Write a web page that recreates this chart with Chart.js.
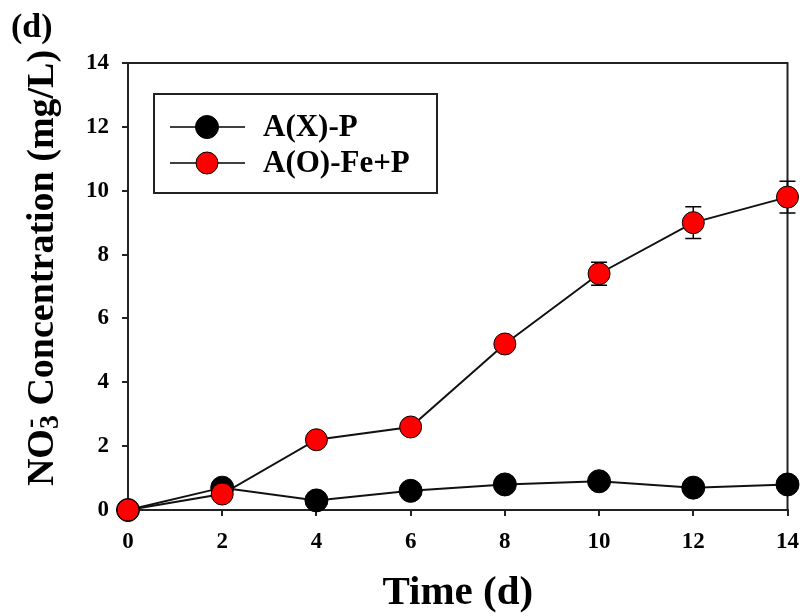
<!DOCTYPE html>
<html>
<head>
<meta charset="utf-8">
<script src="https://cdn.jsdelivr.net/npm/chart.js@4.4.0/dist/chart.umd.min.js"></script>
<style>
    html, body { margin: 0; padding: 0; background: #fff; }
    #wrap { width: 811px; height: 616px; position: relative; }
</style>
</head>
<body>
<div id="wrap"><canvas id="no3Chart" width="811" height="616"></canvas></div>
<script>
const days = [0, 2, 4, 6, 8, 10, 12, 14];
const axpValues = [0, 0.7, 0.3, 0.6, 0.8, 0.9, 0.7, 0.8];
const axpErrors = [0, 0, 0, 0, 0, 0, 0, 0];
const aofepValues = [0, 0.5, 2.2, 2.6, 5.2, 7.4, 9.0, 9.8];
const aofepErrors = [0, 0, 0, 0, 0.1, 0.36, 0.5, 0.5];
const seriesLabels = ['A(X)-P', 'A(O)-Fe+P'];
const panelLabel = '(d)';
const xTitle = 'Time (d)';

const serif = "'Liberation Serif', 'Times New Roman', serif";

function toPoints(xs, ys) {
    return xs.map((x, i) => ({ x: x, y: ys[i] }));
}

const frameAndErrors = {
    id: 'frameAndErrors',
    beforeDatasetsDraw(chart) {
        const ctx = chart.ctx;
        const area = chart.chartArea;
        const xs = chart.scales.x;
        const ys = chart.scales.y;
        ctx.save();
        ctx.strokeStyle = '#222';
        ctx.lineWidth = 2;
        ctx.strokeRect(area.left, area.top, area.right - area.left, area.bottom - area.top);

        // error bars
        ctx.strokeStyle = '#000';
        ctx.lineWidth = 1.5;
        chart.data.datasets.forEach(ds => {
            ds.errors.forEach((err, i) => {
                if (!err) return;
                const px = xs.getPixelForValue(ds.data[i].x);
                const top = ys.getPixelForValue(ds.data[i].y + err);
                const bot = ys.getPixelForValue(ds.data[i].y - err);
                ctx.beginPath();
                ctx.moveTo(px, top); ctx.lineTo(px, bot);
                ctx.moveTo(px - 8, top); ctx.lineTo(px + 8, top);
                ctx.moveTo(px - 8, bot); ctx.lineTo(px + 8, bot);
                ctx.stroke();
            });
        });
        ctx.restore();
    },
    afterDraw(chart) {
        const ctx = chart.ctx;
        const area = chart.chartArea;
        ctx.save();
        ctx.fillStyle = '#000';

        // panel label
        ctx.font = 'bold 34px ' + serif;
        ctx.textBaseline = 'middle';
        ctx.textAlign = 'left';
        ctx.fillText(panelLabel, 11, 28);

        // x title
        ctx.font = 'bold 41px ' + serif;
        ctx.textAlign = 'center';
        ctx.fillText(xTitle, (area.left + area.right) / 2, 593);

        // y title with sub/superscript
        const big = 'bold 38px ' + serif;
        const small = 'bold 28px ' + serif;
        const parts = [
            { t: 'NO', f: big, dy: 0 },
            { t: '3', f: small, dy: 5 },
            { t: '-', f: small, dy: -15 },
            { t: ' Concentration (mg/L)', f: big, dy: 0 }
        ];
        parts.forEach(p => { ctx.font = p.f; p.w = ctx.measureText(p.t).width; });
        // the sub and superscript share one slot
        const total = parts[0].w + Math.max(parts[1].w, parts[2].w) + parts[3].w;
        ctx.translate(53, 268);
        ctx.rotate(-Math.PI / 2);
        ctx.textAlign = 'left';
        ctx.textBaseline = 'alphabetic';
        let cx = -total / 2;
        ctx.font = parts[0].f; ctx.fillText(parts[0].t, cx, parts[0].dy); cx += parts[0].w;
        ctx.font = parts[1].f; ctx.fillText(parts[1].t, cx, parts[1].dy);
        ctx.font = parts[2].f; ctx.fillText(parts[2].t, cx + 1, parts[2].dy);
        cx += Math.max(parts[1].w, parts[2].w);
        ctx.font = parts[3].f; ctx.fillText(parts[3].t, cx, parts[3].dy);
        ctx.setTransform(1, 0, 0, 1, 0, 0);

        // legend box
        const lx = area.left + 26, ly = area.top + 31;
        ctx.strokeStyle = '#222';
        ctx.lineWidth = 2;
        ctx.strokeRect(lx, ly, 283, 99);
        const order = [1, 0];
        order.forEach((dsIndex, row) => {
            const ds = chart.data.datasets[dsIndex];
            const yy = ly + 33 + row * 36;
            ctx.strokeStyle = '#000';
            ctx.lineWidth = 1.5;
            ctx.beginPath();
            ctx.moveTo(lx + 16, yy); ctx.lineTo(lx + 91, yy);
            ctx.stroke();
            ctx.beginPath();
            ctx.arc(lx + 53, yy, ds.pointRadius, 0, Math.PI * 2);
            ctx.fillStyle = ds.pointBackgroundColor;
            ctx.fill();
            ctx.lineWidth = 1;
            ctx.stroke();
            ctx.fillStyle = '#000';
            ctx.font = 'bold 31px ' + serif;
            ctx.textAlign = 'left';
            ctx.textBaseline = 'middle';
            ctx.fillText(ds.label, lx + 109, yy + 1);
        });
        ctx.restore();
    }
};

const ctx = document.getElementById('no3Chart').getContext('2d');
const no3Chart = new Chart(ctx, {
    type: 'line',
    data: {
        datasets: [
            {
                label: seriesLabels[1],
                data: toPoints(days, aofepValues),
                errors: aofepErrors,
                borderColor: '#111',
                borderWidth: 2,
                pointBackgroundColor: '#ff0000',
                pointBorderColor: '#000',
                pointBorderWidth: 1,
                pointRadius: 11,
                pointHoverRadius: 11,
                tension: 0,
                clip: false,
                order: 0
            },
            {
                label: seriesLabels[0],
                data: toPoints(days, axpValues),
                errors: axpErrors,
                borderColor: '#111',
                borderWidth: 2,
                pointBackgroundColor: '#000',
                pointBorderColor: '#000',
                pointBorderWidth: 1,
                pointRadius: 11.5,
                pointHoverRadius: 11.5,
                tension: 0,
                clip: false,
                order: 1
            }
        ]
    },
    options: {
        responsive: false,
        animation: false,
        events: [],
        layout: { padding: { top: 63, right: 17, left: 0, bottom: 0 } },
        plugins: {
            legend: { display: false },
            tooltip: { enabled: false }
        },
        scales: {
            x: {
                type: 'linear',
                min: 0,
                max: 14,
                afterFit: scale => { scale.height = 106; },
                ticks: {
                    stepSize: 2,
                    color: '#000',
                    padding: 12,
                    font: { family: serif, size: 23, weight: 'bold' }
                },
                grid: { display: true, drawOnChartArea: false, drawTicks: true, tickLength: 6, color: '#222', lineWidth: 2 },
                border: { display: true, color: '#222', width: 2 }
            },
            y: {
                min: 0,
                max: 14,
                afterFit: scale => { scale.width = 128; },
                ticks: {
                    stepSize: 2,
                    color: '#000',
                    padding: 13,
                    font: { family: serif, size: 23, weight: 'bold' }
                },
                grid: { display: true, drawOnChartArea: false, drawTicks: true, tickLength: 6, color: '#222', lineWidth: 2 },
                border: { display: true, color: '#222', width: 2 }
            }
        }
    },
    plugins: [frameAndErrors]
});
</script>
</body>
</html>
